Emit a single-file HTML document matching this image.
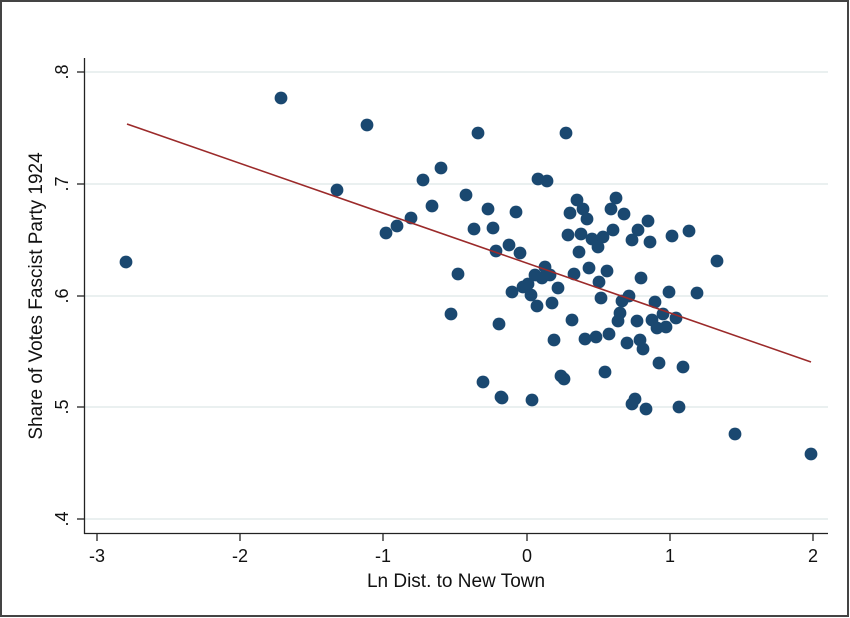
<!DOCTYPE html>
<html><head><style>body{margin:0;background:#fff}svg{display:block}</style></head><body>
<svg width="850" height="618" viewBox="0 0 850 618" xmlns="http://www.w3.org/2000/svg" font-family="Liberation Sans, sans-serif">
<rect x="0" y="0" width="850" height="618" fill="#fff"/>
<rect x="1" y="1" width="847" height="615" fill="none" stroke="#444" stroke-width="2"/>
<g stroke="#e4ecec" stroke-width="1.5">
<line x1="85" x2="828" y1="72" y2="72"/><line x1="85" x2="828" y1="184" y2="184"/><line x1="85" x2="828" y1="296" y2="296"/><line x1="85" x2="828" y1="407" y2="407"/><line x1="85" x2="828" y1="519" y2="519"/>
</g>
<g stroke="#222" stroke-width="1.3">
<line x1="84.5" y1="58" x2="84.5" y2="534"/><line x1="84" y1="533.5" x2="828" y2="533.5"/>
<line x1="77" x2="84" y1="72" y2="72"/><line x1="77" x2="84" y1="184" y2="184"/><line x1="77" x2="84" y1="296" y2="296"/><line x1="77" x2="84" y1="407" y2="407"/><line x1="77" x2="84" y1="519" y2="519"/>
<line x1="97" x2="97" y1="534" y2="541"/><line x1="240" x2="240" y1="534" y2="541"/><line x1="383" x2="383" y1="534" y2="541"/><line x1="527" x2="527" y1="534" y2="541"/><line x1="670" x2="670" y1="534" y2="541"/><line x1="813" x2="813" y1="534" y2="541"/>
</g>
<g font-size="18" fill="#111" text-anchor="middle">
<text x="97" y="562">-3</text><text x="240" y="562">-2</text><text x="383" y="562">-1</text><text x="527" y="562">0</text><text x="670" y="562">1</text><text x="813" y="562">2</text>
<text transform="translate(68,72) rotate(-90)">.8</text>
<text transform="translate(68,184) rotate(-90)">.7</text>
<text transform="translate(68,296) rotate(-90)">.6</text>
<text transform="translate(68,407) rotate(-90)">.5</text>
<text transform="translate(68,519) rotate(-90)">.4</text>
<text x="456" y="587" font-size="19">Ln Dist. to New Town</text>
<text transform="translate(42,296) rotate(-90)" font-size="19">Share of Votes Fascist Party 1924</text>
</g>
<g fill="#1a4870">
<circle cx="126" cy="262" r="6.4"/><circle cx="281" cy="98" r="6.4"/><circle cx="367" cy="125" r="6.4"/><circle cx="337" cy="190" r="6.4"/><circle cx="386" cy="233" r="6.4"/><circle cx="397" cy="226" r="6.4"/><circle cx="411" cy="218" r="6.4"/><circle cx="478" cy="133" r="6.4"/><circle cx="566" cy="133" r="6.4"/><circle cx="735" cy="434" r="6.4"/><circle cx="811" cy="454" r="6.4"/><circle cx="501" cy="397" r="6.4"/>
<circle cx="441" cy="168" r="6.4"/><circle cx="423" cy="180" r="6.4"/><circle cx="538" cy="179" r="6.4"/><circle cx="547" cy="181" r="6.4"/><circle cx="466" cy="195" r="6.4"/><circle cx="432" cy="206" r="6.4"/><circle cx="488" cy="209" r="6.4"/><circle cx="516" cy="212" r="6.4"/><circle cx="474" cy="229" r="6.4"/><circle cx="493" cy="228" r="6.4"/><circle cx="577" cy="200" r="6.4"/><circle cx="616" cy="198" r="6.4"/><circle cx="570" cy="213" r="6.4"/><circle cx="583" cy="209" r="6.4"/><circle cx="587" cy="219" r="6.4"/><circle cx="611" cy="209" r="6.4"/><circle cx="624" cy="214" r="6.4"/><circle cx="648" cy="221" r="6.4"/><circle cx="613" cy="230" r="6.4"/><circle cx="638" cy="230" r="6.4"/><circle cx="568" cy="235" r="6.4"/><circle cx="581" cy="234" r="6.4"/><circle cx="592" cy="239" r="6.4"/><circle cx="603" cy="237" r="6.4"/><circle cx="598" cy="247" r="6.4"/><circle cx="632" cy="240" r="6.4"/><circle cx="650" cy="242" r="6.4"/><circle cx="672" cy="236" r="6.4"/><circle cx="689" cy="231" r="6.4"/><circle cx="496" cy="251" r="6.4"/><circle cx="509" cy="245" r="6.4"/><circle cx="520" cy="253" r="6.4"/><circle cx="579" cy="252" r="6.4"/><circle cx="717" cy="261" r="6.4"/><circle cx="458" cy="274" r="6.4"/><circle cx="545" cy="267" r="6.4"/><circle cx="535" cy="275" r="6.4"/><circle cx="542" cy="278" r="6.4"/><circle cx="550" cy="275" r="6.4"/><circle cx="574" cy="274" r="6.4"/><circle cx="589" cy="268" r="6.4"/><circle cx="607" cy="271" r="6.4"/><circle cx="599" cy="282" r="6.4"/><circle cx="641" cy="278" r="6.4"/><circle cx="523" cy="287" r="6.4"/><circle cx="528" cy="284" r="6.4"/><circle cx="558" cy="288" r="6.4"/><circle cx="512" cy="292" r="6.4"/><circle cx="531" cy="295" r="6.4"/><circle cx="601" cy="298" r="6.4"/><circle cx="622" cy="301" r="6.4"/><circle cx="629" cy="296" r="6.4"/><circle cx="655" cy="302" r="6.4"/><circle cx="669" cy="292" r="6.4"/><circle cx="697" cy="293" r="6.4"/><circle cx="537" cy="306" r="6.4"/><circle cx="552" cy="303" r="6.4"/><circle cx="451" cy="314" r="6.4"/><circle cx="499" cy="324" r="6.4"/><circle cx="572" cy="320" r="6.4"/><circle cx="620" cy="313" r="6.4"/><circle cx="618" cy="321" r="6.4"/><circle cx="637" cy="321" r="6.4"/><circle cx="652" cy="320" r="6.4"/><circle cx="663" cy="314" r="6.4"/><circle cx="676" cy="318" r="6.4"/><circle cx="657" cy="328" r="6.4"/><circle cx="666" cy="327" r="6.4"/><circle cx="554" cy="340" r="6.4"/><circle cx="585" cy="339" r="6.4"/><circle cx="596" cy="337" r="6.4"/><circle cx="609" cy="334" r="6.4"/><circle cx="627" cy="343" r="6.4"/><circle cx="640" cy="340" r="6.4"/><circle cx="643" cy="349" r="6.4"/><circle cx="659" cy="363" r="6.4"/><circle cx="683" cy="367" r="6.4"/><circle cx="483" cy="382" r="6.4"/><circle cx="561" cy="376" r="6.4"/><circle cx="564" cy="379" r="6.4"/><circle cx="605" cy="372" r="6.4"/><circle cx="502" cy="398" r="6.4"/><circle cx="532" cy="400" r="6.4"/><circle cx="632" cy="404" r="6.4"/><circle cx="635" cy="399" r="6.4"/><circle cx="646" cy="409" r="6.4"/><circle cx="679" cy="407" r="6.4"/>
</g>
<line x1="127" y1="124" x2="811" y2="362" stroke="#9b2a2a" stroke-width="1.6"/>
</svg>
</body></html>
